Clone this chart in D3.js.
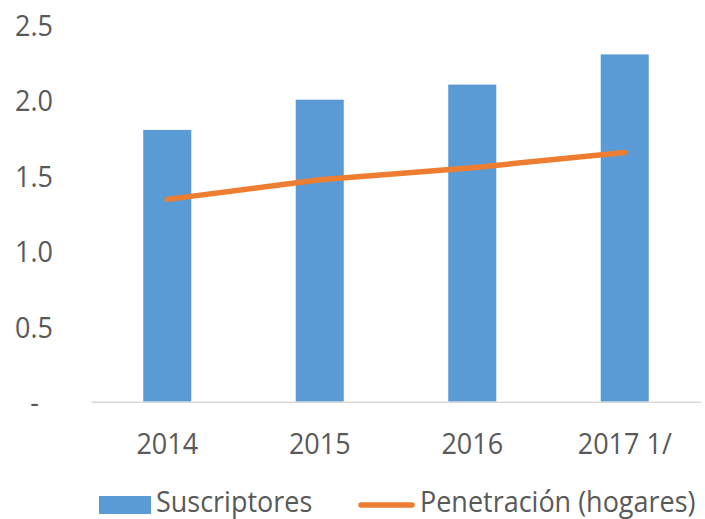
<!DOCTYPE html>
<html>
<head>
<meta charset="utf-8">
<script src="https://cdn.jsdelivr.net/npm/d3@7"></script>
<style>
  body { margin: 0; background: #fff; }
  text { font-family: "Open Sans", sans-serif; fill: #595959; }
</style>
</head>
<body>
<div id="chart"></div>
<script>
"use strict";

// chart data
var years = ["2014", "2015", "2016", "2017 1/"];
var suscriptores = [1.8, 2.0, 2.1, 2.3];
var penetracion = [1.34, 1.47, 1.55, 1.65];
var yTicks = [0, 0.5, 1.0, 1.5, 2.0, 2.5];
var seriesNames = ["Suscriptores", "Penetración (hogares)"];

var width = 705,
  height = 519;

var svg = d3
  .select("#chart")
  .append("svg")
  .attr("width", width)
  .attr("height", height);

var x = d3
  .scaleBand()
  .domain(years)
  .range([91, 701])
  .paddingInner(0.685)
  .paddingOuter(0.3425);

var y = d3.scaleLinear().domain([0, 2.5]).range([401.7, 24.2]);

// squeeze text a bit horizontally, like the original
function squeeze(sel, anchorX) {
  sel.attr("transform", "translate(" + anchorX + ",0) scale(0.9,1)").attr("x", 0);
}

// y axis
var yAxis = svg
  .append("g")
  .attr("transform", "translate(53,0)")
  .call(
    d3
      .axisLeft(y)
      .tickValues(yTicks)
      .tickSize(0)
      .tickFormat(function(d) {
        return d === 0 ? "-" : d3.format(".1f")(d);
      })
  );
yAxis.select(".domain").remove();
yAxis
  .selectAll("text")
  .style("font-size", "30px")
  .attr("text-anchor", "end")
  .attr("dy", "0.36em")
  .each(function(d) {
    squeeze(d3.select(this), d === 0 ? -14 : 0);
  });

// bars
svg
  .selectAll("rect.bar")
  .data(suscriptores)
  .enter()
  .append("rect")
  .attr("class", "bar")
  .attr("x", function(d, i) {
    return x(years[i]);
  })
  .attr("y", function(d) {
    return y(d);
  })
  .attr("width", x.bandwidth())
  .attr("height", function(d) {
    return y(0) - y(d);
  })
  .attr("fill", "#5B9BD5");

// x axis
var xAxis = svg
  .append("g")
  .attr("transform", "translate(0," + y(0) + ")")
  .call(d3.axisBottom(x).tickSize(0).tickSizeOuter(0));
xAxis
  .select(".domain")
  .attr("stroke", "#D9D9D9")
  .attr("stroke-width", 1.5);
xAxis
  .selectAll("text")
  .style("font-size", "30px")
  .attr("y", 0)
  .attr("dy", 0)
  .each(function() {
    d3.select(this).attr("transform", "translate(0,52.3) scale(0.9,1)");
  });

// line
var line = d3
  .line()
  .x(function(d, i) {
    return x(years[i]) + x.bandwidth() / 2;
  })
  .y(function(d) {
    return y(d);
  });

svg
  .append("path")
  .datum(penetracion)
  .attr("d", line)
  .attr("fill", "none")
  .attr("stroke", "#ED7D31")
  .attr("stroke-width", 5.5)
  .attr("stroke-linecap", "round")
  .attr("stroke-linejoin", "round");

// legend (raised a touch so descenders stay inside the frame)
var legend = svg.append("g");
legend
  .append("rect")
  .attr("x", 99)
  .attr("y", 496)
  .attr("width", 52)
  .attr("height", 18)
  .attr("fill", "#5B9BD5");
legend
  .append("text")
  .attr("transform", "translate(156,512) scale(0.93,1)")
  .style("font-size", "29px")
  .text(seriesNames[0]);
legend
  .append("line")
  .attr("x1", 361)
  .attr("x2", 412)
  .attr("y1", 505)
  .attr("y2", 505)
  .attr("stroke", "#ED7D31")
  .attr("stroke-width", 5.5)
  .attr("stroke-linecap", "round");
legend
  .append("text")
  .attr("transform", "translate(420,512) scale(0.93,1)")
  .style("font-size", "29px")
  .text(seriesNames[1]);
</script>
</body>
</html>
